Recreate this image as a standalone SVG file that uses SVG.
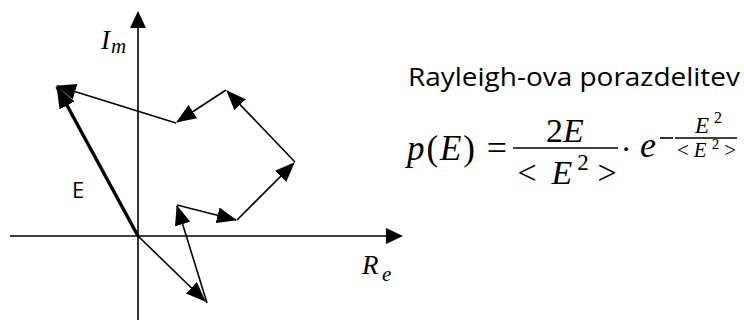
<svg xmlns="http://www.w3.org/2000/svg" width="744" height="321" viewBox="0 0 744 321">
<style>
.ax{stroke:#000;stroke-width:1.6;fill:none}
.v{stroke:#000;stroke-width:1.6;fill:none;marker-end:url(#ah)}
.vt{stroke:#000;stroke-width:3.4;fill:none;marker-end:url(#ahb)}
.m{font-family:"Liberation Serif",serif;font-style:italic;fill:#000}
.mu{font-family:"Liberation Serif",serif;fill:#000}
.s{font-family:"Open Sans","Liberation Sans",sans-serif;fill:#000}
</style>
<defs>
<marker id="ah" viewBox="0 0 20 16" refX="19" refY="8" markerWidth="20" markerHeight="16" markerUnits="userSpaceOnUse" orient="auto"><path d="M0,0 L20,8 L0,16 z" fill="#000"/></marker>
<marker id="ahb" viewBox="0 0 22 17" refX="21" refY="8.5" markerWidth="22" markerHeight="17" markerUnits="userSpaceOnUse" orient="auto"><path d="M0,0 L22,8.5 L0,17 z" fill="#000"/></marker>
</defs>
<rect width="744" height="321" fill="#fff"/>
<g id="axes">
<line class="ax" x1="138" y1="320" x2="138" y2="26"/>
<path d="M130,28 L138,11 L146,28 z" fill="#000"/>
<line class="ax" x1="10" y1="236" x2="388" y2="236"/>
<path d="M386,228 L403,236 L386,244 z" fill="#000"/>
</g>
<g id="connectors">
<line class="v" x1="138" y1="236" x2="205" y2="301"/>
<line class="v" x1="207" y1="303" x2="177" y2="206"/>
<line class="v" x1="177" y1="205" x2="236" y2="220"/>
<line class="v" x1="237" y1="220" x2="294" y2="163"/>
<line class="v" x1="295" y1="162" x2="227" y2="91"/>
<line class="v" x1="226" y1="90" x2="177" y2="122"/>
<line class="v" x1="176" y1="123" x2="57" y2="86"/>
<line class="vt" x1="138" y1="236" x2="57" y2="87"/>
</g>
<g id="labels">
<text class="m" x="101" y="49" font-size="27">I</text>
<text class="m" x="111" y="53" font-size="21">m</text>
<text class="m" x="362" y="274" font-size="27">R</text>
<text class="m" x="382" y="281" font-size="21">e</text>
<text class="s" x="72" y="198" font-size="22">E</text>
</g>
<g id="formula">
<text class="s" x="408" y="86" font-size="26" textLength="332" lengthAdjust="spacingAndGlyphs">Rayleigh-ova porazdelitev</text>
<text class="m" x="407" y="160" font-size="35" textLength="68" lengthAdjust="spacing">p<tspan font-style="normal">(</tspan>E<tspan font-style="normal">)</tspan></text>
<text class="mu" x="497" y="160" font-size="36" text-anchor="middle">=</text>
<text class="mu" x="565" y="142" font-size="34" text-anchor="middle">2<tspan font-style="italic">E</tspan></text>
<line x1="513" y1="148" x2="618" y2="148" stroke="#000" stroke-width="1.6"/>
<text class="mu" x="527" y="184" font-size="34" text-anchor="middle">&lt;</text>
<text class="m" x="562" y="184" font-size="34" text-anchor="middle">E</text>
<text class="mu" x="583" y="170" font-size="23" text-anchor="middle">2</text>
<text class="mu" x="607" y="184" font-size="34" text-anchor="middle">&gt;</text>
<text class="mu" x="626" y="160" font-size="32" text-anchor="middle">·</text>
<text class="m" x="640" y="157" font-size="36">e</text>
<line x1="660" y1="138" x2="673" y2="138" stroke="#000" stroke-width="1.6"/>
<text class="m" x="702" y="133" font-size="23" text-anchor="middle">E</text>
<text class="mu" x="718" y="123" font-size="16" text-anchor="middle">2</text>
<line x1="675" y1="138" x2="737" y2="138" stroke="#000" stroke-width="1.4"/>
<text class="mu" x="677" y="157" font-size="21" textLength="59" lengthAdjust="spacing">&lt;<tspan font-style="italic">E</tspan><tspan font-size="15" dy="-8">2</tspan><tspan dy="8">&gt;</tspan></text>
</g>
</svg>
